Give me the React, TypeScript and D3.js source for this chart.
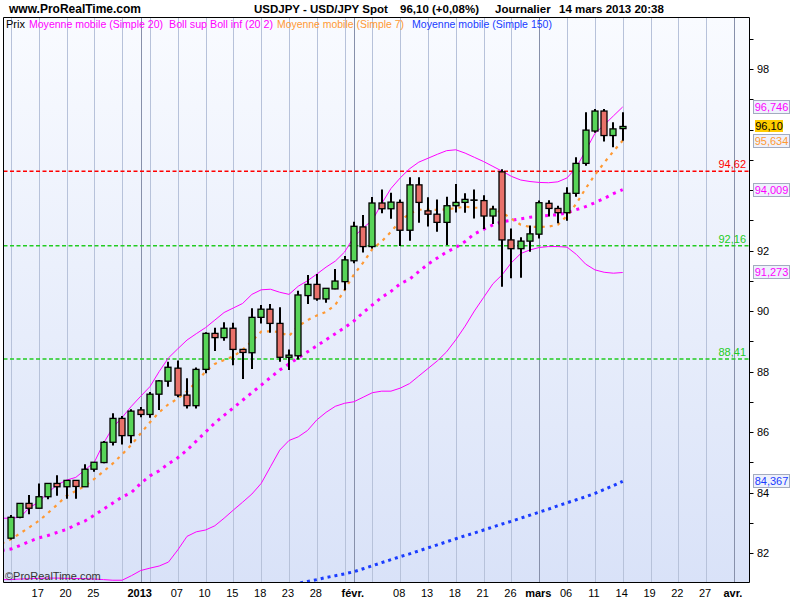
import React from "react";
import * as d3 from "d3";

// Trading-day positions: 0 = 17 Dec 2012. Candles run from position -3 (12 Dec) to 63 (14 Mar 2013).
const CANDLE_START = -3;
const open = [82.49, 83.18, 83.64, 83.48, 83.86, 84.30, 84.19, 84.40, 84.19, 84.77, 84.99, 85.66, 86.45, 85.88,
  86.73, 86.58, 87.25, 87.68, 88.11, 87.22, 86.87, 88.07, 89.26, 89.12, 89.43, 88.73, 88.62, 89.79, 90.06, 89.59,
  88.47, 88.52, 90.51, 90.88, 90.40, 90.73, 90.97, 91.66, 92.78, 92.13, 93.57, 93.38, 93.59, 92.67, 94.17, 93.31,
  93.20, 92.93, 93.48, 93.59, 93.67, 93.65, 93.14, 94.60, 92.35, 92.06, 92.31, 92.54, 93.56, 93.39, 93.25, 93.89,
  94.88, 95.95, 96.61, 95.80, 96.03];
const high = [83.26, 83.65, 83.92, 84.30, 84.30, 84.57, 84.40, 84.40, 84.93, 85.00, 85.70, 86.62, 86.53, 86.75,
  86.83, 87.32, 87.72, 88.32, 88.36, 87.78, 88.13, 89.30, 89.45, 89.63, 89.61, 88.73, 90.09, 90.20, 90.23, 90.12,
  88.73, 90.67, 91.19, 91.22, 90.75, 91.39, 91.82, 92.95, 93.17, 93.77, 94.02, 93.91, 93.69, 94.42, 94.42, 93.76,
  93.69, 93.78, 94.20, 93.89, 94.02, 93.83, 93.48, 94.69, 92.73, 92.44, 92.83, 93.65, 93.66, 93.48, 94.09, 95.08,
  96.57, 96.68, 96.68, 96.24, 96.57];
const low = [82.45, 83.15, 83.28, 83.48, 83.78, 83.89, 83.79, 83.79, 84.19, 84.69, 84.97, 85.55, 85.59, 85.63,
  86.49, 86.47, 86.73, 87.50, 87.15, 86.78, 86.78, 87.94, 88.68, 89.02, 88.21, 87.75, 88.08, 89.59, 89.28, 88.32,
  88.05, 88.40, 90.23, 90.34, 90.27, 90.72, 90.69, 91.58, 91.93, 92.07, 93.23, 93.05, 92.15, 92.32, 92.92, 92.79,
  92.62, 92.18, 93.26, 93.25, 93.06, 92.71, 92.88, 90.80, 91.08, 91.10, 91.96, 92.40, 93.12, 92.90, 92.98, 93.78,
  94.80, 95.89, 95.60, 95.41, 95.63];
const close = [83.18, 83.64, 83.48, 83.86, 84.30, 84.19, 84.40, 84.20, 84.77, 85.00, 85.66, 86.45, 85.88, 86.69,
  86.58, 87.25, 87.69, 88.14, 87.22, 86.87, 88.07, 89.26, 89.12, 89.43, 88.73, 88.63, 89.79, 90.06, 89.59, 88.47,
  88.54, 90.53, 90.88, 90.40, 90.75, 90.99, 91.69, 92.80, 92.13, 93.57, 93.38, 93.60, 92.67, 94.17, 93.59, 93.20,
  92.93, 93.48, 93.59, 93.69, 93.67, 93.14, 93.37, 92.35, 92.06, 92.31, 92.55, 93.58, 93.39, 93.25, 93.89, 94.88,
  95.98, 96.61, 95.80, 96.02, 96.10];

// Indicators from position -4 (11 Dec) to 63
const IND_START = -4;
const bollUp = [83.15, 83.15, 83.18, 83.50, 83.68, 84.0, 84.25, 84.41, 84.50, 84.75, 85.0, 85.63, 86.15, 86.48,
  86.85, 87.18, 87.50, 88.0, 88.45, 88.75, 89.04, 89.25, 89.45, 89.70, 89.95, 90.10, 90.25, 90.55, 90.70, 90.72,
  90.62, 90.55, 90.82, 91.0, 91.22, 91.45, 91.65, 91.95, 92.45, 92.75, 93.0, 93.55, 94.05, 94.40, 94.70, 94.92,
  95.05, 95.18, 95.30, 95.33, 95.22, 95.08, 94.94, 94.78, 94.62, 94.45, 94.33, 94.28, 94.25, 94.24, 94.27, 94.40,
  94.75, 95.30, 95.87, 96.15, 96.45, 96.746];
const sma20 = [82.08, 82.13, 82.25, 82.38, 82.50, 82.58, 82.68, 82.78, 82.93, 83.06, 83.25, 83.45, 83.65, 83.85,
  84.0, 84.3, 84.55, 84.72, 84.95, 85.15, 85.40, 85.70, 86.0, 86.30, 86.55, 86.80, 87.05, 87.30, 87.55, 87.80,
  88.05, 88.25, 88.45, 88.65, 88.85, 89.05, 89.25, 89.45, 89.67, 89.95, 90.20, 90.45, 90.65, 90.90, 91.05, 91.30,
  91.55, 91.75, 91.95, 92.10, 92.30, 92.55, 92.70, 92.85, 92.95, 93.00, 93.05, 93.10, 93.13, 93.16, 93.18, 93.25,
  93.35, 93.45, 93.58, 93.72, 93.88, 94.009];
const bollLow = [81.12, 81.12, 81.14, 81.15, 81.16, 81.17, 81.17, 81.16, 81.16, 81.15, 81.14, 81.12, 81.10, 81.10,
  81.25, 81.42, 81.50, 81.57, 81.70, 82.10, 82.55, 82.70, 82.76, 82.90, 83.15, 83.42, 83.68, 83.95, 84.30, 84.85,
  85.40, 85.72, 85.84, 86.05, 86.40, 86.65, 86.85, 86.95, 87.0, 87.15, 87.3, 87.35, 87.35, 87.45, 87.6, 87.85,
  88.1, 88.35, 88.65, 89.05, 89.5, 90.0, 90.45, 90.9, 91.2, 91.6, 91.9, 92.02, 92.1, 92.13, 92.13, 92.11, 91.87,
  91.55, 91.36, 91.28, 91.25, 91.273];
const sma7 = [82.32, 82.45, 82.65, 82.85, 83.06, 83.32, 83.60, 83.89, 84.05, 84.22, 84.45, 84.70, 84.96, 85.26,
  85.58, 85.95, 86.32, 86.65, 86.92, 87.10, 87.35, 87.65, 88.0, 88.25, 88.38, 88.50, 88.72, 89.0, 89.32, 89.33,
  89.30, 89.17, 89.50, 89.70, 89.85, 89.97, 90.20, 90.70, 91.20, 91.60, 92.05, 92.30, 92.62, 92.98, 93.22, 93.35,
  93.34, 93.34, 93.36, 93.40, 93.45, 93.42, 93.40, 93.37, 93.25, 93.05, 92.85, 92.78, 92.78, 92.79, 92.85, 93.15,
  93.55, 94.05, 94.50, 94.90, 95.28, 95.634];
// SMA150 from position 26 to 63
const SMA150_START = 26;
const sma150 = [80.85, 80.93, 81.00, 81.06, 81.12, 81.19, 81.25, 81.31, 81.38, 81.48, 81.58, 81.68, 81.78, 81.88,
  81.97, 82.07, 82.17, 82.27, 82.37, 82.47, 82.57, 82.66, 82.76, 82.86, 82.96, 83.05, 83.15, 83.25, 83.35, 83.45,
  83.56, 83.66, 83.76, 83.86, 83.97, 84.10, 84.23, 84.367];

const xTickPos = [0, 3, 6, 11, 15, 18, 21, 24, 27, 30, 34, 39, 42, 45, 48, 51, 54, 57, 60, 63, 66, 69, 72, 75];
const xTickLabels = ["17", "20", "25", "2013", "07", "10", "15", "18", "23", "28", "févr.", "08", "13", "18", "21",
  "26", "mars", "06", "11", "14", "19", "22", "27", "avr."];
const boldLabels = ["2013", "févr.", "mars", "avr."];
const gridLight = [-3, 0, 3, 6, 9, 12, 15, 18, 21, 24, 27, 30, 33, 36, 39, 42, 45, 48, 51, 57, 60, 63, 66, 69, 72];
const gridDark = [11, 34, 54, 75];
const yTickValues = [82, 83, 84, 85, 86, 87, 88, 89, 90, 91, 92, 93, 94, 95, 96, 97, 98, 99];
// 94 and 96 are hidden behind the value boxes in the reference
const yLabelValues = [82, 84, 86, 88, 90, 92, 98];
const levelValues = [94.62, 92.16, 88.41];
const levelLabels = ["94,62", "92,16", "88,41"];
const levelColors = ["#ff0000", "#22cc22", "#22cc22"];

const legendTexts = ["Prix", "Moyenne mobile (Simple 20)", "Boll sup Boll inf (20 2)", "Moyenne mobile (Simple 7)",
  "Moyenne mobile (Simple 150)"];

const FONT = "'Liberation Sans', Arial, sans-serif";
const PL = 3.5, PR = 749.5, PT = 17.5, PB = 582.5;

export default function App() {
  const x = d3.scaleLinear().domain([0, 75]).range([38.7, 733.95]);
  const y = d3.scaleLinear().domain([82, 98]).range([553, 69]);

  const indLine = d3.line<number>().x((_, i) => x(i + IND_START)).y((d) => y(d));
  const smaLongLine = d3.line<number>().x((_, i) => x(i + SMA150_START)).y((d) => y(d));

  const lastBoxes = [
    { v: bollUp[bollUp.length - 1], label: "96,746", color: "#ff00ff" },
    { v: sma7[sma7.length - 1], label: "95,634", color: "#ff9933" },
    { v: sma20[sma20.length - 1], label: "94,009", color: "#ff00ff" },
    { v: bollLow[bollLow.length - 1], label: "91,273", color: "#ff00ff" },
    { v: sma150[sma150.length - 1], label: "84,367", color: "#1a3cff" },
  ];
  const lastClose = close[close.length - 1];

  const legendX = [6, 29, 169, 277, 412];
  const legendW = [19, 134, 104, 127, 140];
  const legendC = ["#000", "#ff00ff", "#ff00ff", "#ff9933", "#1a3cff"];

  return (
    <svg width={800} height={600} style={{ position: "absolute", left: 0, top: 0, display: "block" }}
      fontFamily={FONT}>
      <defs>
        <linearGradient id="bg" x1="0" y1="0" x2="0" y2="1">
          <stop offset="0" stopColor="#f9fbff" />
          <stop offset="1" stopColor="#d9e2f8" />
        </linearGradient>
        <clipPath id="plotclip">
          <rect x={PL} y={PT} width={PR - PL} height={PB - PT} />
        </clipPath>
      </defs>
      <rect x={0} y={0} width={800} height={600} fill="#ffffff" />
      <rect x={PL} y={PT} width={PR - PL} height={PB - PT} fill="url(#bg)" />

      {/* title */}
      <text x={9} y={13} fontSize={12} fontWeight="bold" fill="#000">www.ProRealTime.com</text>
      <text x={254} y={13} fontSize={11.5} fontWeight="bold" fill="#000">USDJPY - USD/JPY Spot</text>
      <text x={400} y={13} fontSize={11.5} fontWeight="bold" fill="#000">96,10 (+0,08%)</text>
      <text x={495} y={13} fontSize={11.5} fontWeight="bold" fill="#000">Journalier</text>
      <text x={559} y={13} fontSize={11.5} fontWeight="bold" fill="#000">14 mars 2013 20:38</text>

      <g clipPath="url(#plotclip)">
        {gridLight.map((p) => (
          <line key={"gl" + p} x1={Math.round(x(p)) + 0.5} x2={Math.round(x(p)) + 0.5} y1={PT} y2={PB}
            stroke="#b7c2da" strokeWidth={1} />
        ))}
        {gridDark.map((p) => (
          <line key={"gd" + p} x1={Math.round(x(p)) + 0.5} x2={Math.round(x(p)) + 0.5} y1={PT} y2={PB}
            stroke="#8790aa" strokeWidth={1} />
        ))}

        {levelValues.map((v, i) => (
          <line key={"lv" + i} x1={PL} x2={PR} y1={y(v)} y2={y(v)}
            stroke={levelColors[i]} strokeWidth={1.5} strokeDasharray="4 2.5" />
        ))}

        <path d={smaLongLine(sma150) || ""} fill="none" stroke="#1a3cff" strokeWidth={3} strokeDasharray="3 4" />
        <path d={indLine(bollLow) || ""} fill="none" stroke="#ff00ff" strokeWidth={1} />
        <path d={indLine(bollUp) || ""} fill="none" stroke="#ff00ff" strokeWidth={1} />
        <path d={indLine(sma20) || ""} fill="none" stroke="#ff00ff" strokeWidth={3} strokeDasharray="3 5" />
        <path d={indLine(sma7) || ""} fill="none" stroke="#ff9933" strokeWidth={2.2} strokeDasharray="3 5" />

        {open.map((o, i) => {
          const c = close[i];
          const xc = Math.round(x(i + CANDLE_START));
          const top = y(Math.max(o, c));
          const bot = y(Math.min(o, c));
          const up = c >= o;
          return (
            <g key={"c" + i}>
              <line x1={xc} x2={xc} y1={y(high[i])} y2={y(low[i])} stroke="#000" strokeWidth={2} />
              <rect x={xc - 3} y={top} width={6} height={Math.max(bot - top, 0.3)}
                fill={up ? "#58d458" : "#e8716a"} stroke="#000" strokeWidth={1.3} />
            </g>
          );
        })}

        {levelValues.map((v, i) => (
          <text key={"ll" + i} x={746} y={y(v) - 3} fontSize={11} textAnchor="end" fill={levelColors[i]}>
            {levelLabels[i]}
          </text>
        ))}

        {legendTexts.map((t, i) => (
          <text key={"lg" + i} x={legendX[i]} y={27.5} fontSize={11} fill={legendC[i]}
            textLength={legendW[i]} lengthAdjust="spacingAndGlyphs">{t}</text>
        ))}

        <text x={5} y={579.5} fontSize={11} fill="#333">©ProRealTime.com</text>
      </g>

      {/* frame */}
      <line x1={PL} x2={PL} y1={PT} y2={PB} stroke="#000" />
      <line x1={PL} x2={PR} y1={PB} y2={PB} stroke="#000" />
      <line x1={PR} x2={PR} y1={PT} y2={PB} stroke="#000" />
      <line x1={PL} x2={PR} y1={PT} y2={PT} stroke="#000" />

      {/* right axis */}
      {yTickValues.map((v) => (
        <line key={"yt" + v} x1={PR} x2={PR + 4} y1={Math.round(y(v)) + 0.5} y2={Math.round(y(v)) + 0.5}
          stroke="#000" />
      ))}
      {yLabelValues.map((v) => (
        <text key={"yl" + v} x={757} y={y(v) + 4} fontSize={11} fill="#000">{v}</text>
      ))}

      {lastBoxes.map((b, i) => (
        <g key={"bx" + i}>
          <rect x={753.5} y={Math.round(y(b.v)) - 6.5} width={36} height={13} fill="#eef1fc" stroke="#a3abbf" />
          <text x={771.5} y={Math.round(y(b.v)) + 4} fontSize={11} textAnchor="middle" fill={b.color}>{b.label}</text>
        </g>
      ))}
      <rect x={755} y={Math.round(y(lastClose)) - 6} width={28} height={12} fill="#ffcc00" />
      <text x={769} y={Math.round(y(lastClose)) + 4} fontSize={11} textAnchor="middle" fill="#000">96,10</text>

      {/* x axis labels */}
      {xTickPos.map((p, i) => (
        <text key={"xl" + i} x={x(p) - 1} y={596.5} fontSize={11} textAnchor="middle"
          fontWeight={boldLabels.includes(xTickLabels[i]) ? "bold" : "normal"} fill="#000">
          {xTickLabels[i]}
        </text>
      ))}
    </svg>
  );
}
